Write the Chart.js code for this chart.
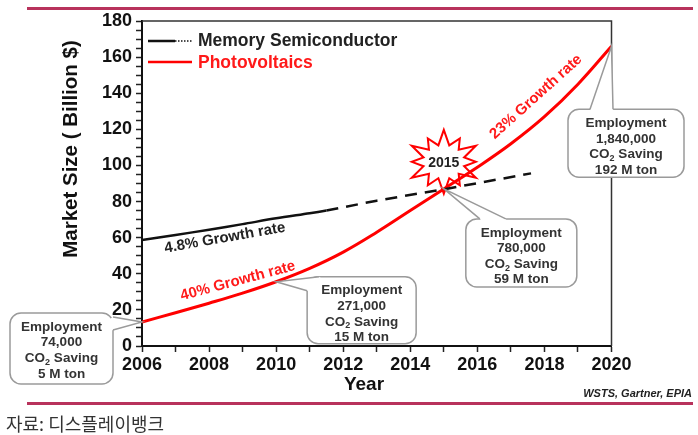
<!DOCTYPE html>
<html>
<head>
<meta charset="utf-8">
<script src="https://cdn.jsdelivr.net/npm/chart.js"></script>
<style>
  body { margin: 0; background: #fff; }
  #wrap { width: 698px; height: 435px; }
</style>
</head>
<body>
<div id="wrap"><canvas id="chart" width="698" height="435"></canvas></div>
<script>
// values
const pvYears = [2006, 2007, 2008, 2009, 2010, 2011, 2012, 2013, 2014, 2015, 2016, 2017, 2018, 2019, 2020];
const pvValues = [13.3, 18.4, 23.7, 29.3, 35.6, 43, 52, 63, 75, 87, 99, 112, 127, 145, 166];
const memYears = [2006, 2007, 2008, 2009, 2010, 2011, 2011.5];
const memValues = [58.7, 61.5, 64.4, 67.5, 70.7, 73.5, 75];
const memForecastYears = [2011.5, 2013, 2015, 2017.6];
const memForecastValues = [75, 80.5, 86.8, 95.6];

const seriesNames = ["Memory Semiconductor", "Photovoltaics"];
const growthLabels = [
  { text: "4.8% Growth rate", x: 2008.47, y: 59.8, angle: -10, color: "#222" },
  { text: "40% Growth rate", x: 2008.86, y: 36, angle: -15, color: "#ff1a1a" },
  { text: "23% Growth rate", x: 2017.75, y: 138, angle: -42, color: "#ff1a1a" }
];
// callouts: anchor on the PV curve, text inside the box
const callouts = [
  { x: 2006, y: 13.3, lines: ["Employment", "74,000", "CO2 Saving", "5 M ton"] },
  { x: 2010, y: 35.6, lines: ["Employment", "271,000", "CO2 Saving", "15 M ton"] },
  { x: 2015, y: 87, lines: ["Employment", "780,000", "CO2 Saving", "59 M ton"] },
  { x: 2020, y: 166, lines: ["Employment", "1,840,000", "CO2 Saving", "192 M ton"] }
];
const starYear = 2015, starValue = 102, starText = "2015";

// box placement relative to the anchor pixel (style only)
const calloutBoxes = [
  { dx: -132, dy: -9, w: 103, h: 71, b1: [103, 4], b2: [103, 17] },
  { dx: 31, dy: -5, w: 109, h: 67, b1: [0, 14], b2: [12, 0] },
  { dx: 22, dy: 30, w: 111, h: 68, b1: [14, 0], b2: [40, 0] },
  { dx: -43.5, dy: 63, w: 116, h: 68, b1: [22, 0], b2: [45, 0] }
];

Chart.defaults.font.family = "'Liberation Sans', Arial, sans-serif";

function roundRect(ctx, x, y, w, h, r) {
  ctx.beginPath();
  ctx.moveTo(x + r, y);
  ctx.arcTo(x + w, y, x + w, y + h, r);
  ctx.arcTo(x + w, y + h, x, y + h, r);
  ctx.arcTo(x, y + h, x, y, r);
  ctx.arcTo(x, y, x + w, y, r);
  ctx.closePath();
}

function drawCO2Line(ctx, text, cx, y) {
  // "CO2 Saving" with a subscript 2
  const big = "bold 13.5px 'Liberation Sans', Arial, sans-serif";
  const small = "bold 9px 'Liberation Sans', Arial, sans-serif";
  const rest = text.slice(3);
  ctx.font = big;
  const wCO = ctx.measureText("CO").width;
  const wRest = ctx.measureText(rest).width;
  ctx.font = small;
  const w2 = ctx.measureText("2").width;
  const total = wCO + w2 + wRest;
  let x = cx - total / 2;
  ctx.textAlign = "left";
  ctx.font = big;
  ctx.fillText("CO", x, y);
  x += wCO;
  ctx.font = small;
  ctx.fillText("2", x, y + 4);
  x += w2;
  ctx.font = big;
  ctx.fillText(rest, x, y);
}

const decorPlugin = {
  id: "decor",
  beforeDatasetsDraw(chart) {
    const { ctx, scales } = chart;
    const cx = scales.x.getPixelForValue(starYear);
    const cy = scales.y.getPixelForValue(starValue);
    const n = 12;
    ctx.save();
    ctx.beginPath();
    for (let i = 0; i < n * 2; i++) {
      const a = -Math.PI / 2 + i * Math.PI / n;
      const outer = i % 2 === 0;
      const rx = outer ? (i % 4 === 0 ? 37 : 32) : 21;
      const ry = outer ? (i % 4 === 0 ? 32 : 27) : 17;
      const px = cx + Math.cos(a) * rx;
      const py = cy + Math.sin(a) * ry;
      if (i === 0) ctx.moveTo(px, py); else ctx.lineTo(px, py);
    }
    ctx.closePath();
    ctx.fillStyle = "#fff";
    ctx.fill();
    ctx.strokeStyle = "#ff0000";
    ctx.lineWidth = 2;
    ctx.stroke();
    ctx.fillStyle = "#222";
    ctx.font = "bold 14px 'Liberation Sans', Arial, sans-serif";
    ctx.textAlign = "center";
    ctx.textBaseline = "middle";
    ctx.fillText(starText, cx, cy + 1);
    ctx.restore();
  },
  afterDatasetsDraw(chart) {
    const { ctx, scales } = chart;
    ctx.save();
    ctx.font = "bold 15px 'Liberation Sans', Arial, sans-serif";
    ctx.textAlign = "center";
    ctx.textBaseline = "middle";
    growthLabels.forEach(g => {
      ctx.save();
      ctx.translate(scales.x.getPixelForValue(g.x), scales.y.getPixelForValue(g.y));
      ctx.rotate(g.angle * Math.PI / 180);
      ctx.fillStyle = g.color;
      ctx.fillText(g.text, 0, 0);
      ctx.restore();
    });
    ctx.restore();
  },
  afterDraw(chart) {
    const { ctx, chartArea: a, scales } = chart;
    ctx.save();

    // frame top and right
    ctx.strokeStyle = "#333";
    ctx.lineWidth = 1.5;
    ctx.beginPath();
    ctx.moveTo(a.left, a.top);
    ctx.lineTo(a.right, a.top);
    ctx.lineTo(a.right, a.bottom);
    ctx.stroke();

    // legend
    ctx.lineWidth = 2.5;
    ctx.strokeStyle = "#111";
    ctx.beginPath();
    ctx.moveTo(148, 41); ctx.lineTo(175, 41);
    ctx.stroke();
    ctx.lineWidth = 1.5;
    ctx.setLineDash([1.5, 1.5]);
    ctx.beginPath();
    ctx.moveTo(175, 41); ctx.lineTo(192, 41);
    ctx.stroke();
    ctx.setLineDash([]);
    ctx.strokeStyle = "#ff0000";
    ctx.lineWidth = 2.5;
    ctx.beginPath();
    ctx.moveTo(148, 62); ctx.lineTo(192, 62);
    ctx.stroke();
    ctx.font = "bold 17.5px 'Liberation Sans', Arial, sans-serif";
    ctx.textAlign = "left";
    ctx.textBaseline = "middle";
    ctx.fillStyle = "#222";
    ctx.fillText(seriesNames[0], 198, 41);
    ctx.fillStyle = "#ff1a1a";
    ctx.fillText(seriesNames[1], 198, 63);

    // axis titles
    ctx.fillStyle = "#111";
    ctx.font = "bold 19px 'Liberation Sans', Arial, sans-serif";
    ctx.textAlign = "center";
    ctx.fillText("Year", 364, 385);
    ctx.save();
    ctx.translate(71, 149);
    ctx.rotate(-Math.PI / 2);
    ctx.font = "bold 20.5px 'Liberation Sans', Arial, sans-serif";
    ctx.fillText("Market Size ( Billion $)", 0, 0);
    ctx.restore();

    // callouts
    callouts.forEach((c, i) => {
      const box = calloutBoxes[i];
      const tx = scales.x.getPixelForValue(c.x);
      const ty = scales.y.getPixelForValue(c.y);
      const bx = tx + box.dx, by = ty + box.dy;
      const p1 = [bx + box.b1[0], by + box.b1[1]];
      const p2 = [bx + box.b2[0], by + box.b2[1]];
      roundRect(ctx, bx, by, box.w, box.h, 11);
      ctx.fillStyle = "#fff";
      ctx.fill();
      ctx.strokeStyle = "#9a9a9a";
      ctx.lineWidth = 1.5;
      ctx.stroke();
      ctx.beginPath();
      ctx.moveTo(tx, ty);
      ctx.lineTo(p1[0], p1[1]);
      ctx.lineTo(bx + box.w / 2, by + box.h / 2);
      ctx.lineTo(p2[0], p2[1]);
      ctx.closePath();
      ctx.fillStyle = "#fff";
      ctx.fill();
      ctx.beginPath();
      ctx.moveTo(p1[0], p1[1]); ctx.lineTo(tx, ty); ctx.lineTo(p2[0], p2[1]);
      ctx.stroke();

      ctx.fillStyle = "#333";
      ctx.textBaseline = "middle";
      const mid = bx + box.w / 2;
      c.lines.forEach((line, k) => {
        const ly = by + 14 + k * 15.6;
        if (line.startsWith("CO2")) {
          drawCO2Line(ctx, line, mid, ly);
        } else {
          ctx.font = "bold 13.5px 'Liberation Sans', Arial, sans-serif";
          ctx.textAlign = "center";
          ctx.fillText(line, mid, ly);
        }
      });
    });

    // rules, source notes
    ctx.fillStyle = "#b8325c";
    ctx.fillRect(27, 7, 666, 3);
    ctx.fillRect(27, 402, 666, 3);
    ctx.fillStyle = "#222";
    ctx.font = "italic bold 11px 'Liberation Sans', Arial, sans-serif";
    ctx.textAlign = "right";
    ctx.textBaseline = "middle";
    ctx.fillText("WSTS, Gartner, EPIA", 692, 394);
    ctx.font = "18px 'Noto Sans CJK KR', sans-serif";
    ctx.textAlign = "left";
    ctx.fillStyle = "#333";
    ctx.fillText("자료: 디스플레이뱅크", 6, 424);
    ctx.restore();
  }
};

function toPoints(xs, ys) {
  return xs.map((x, i) => ({ x: x, y: ys[i] }));
}

new Chart(document.getElementById("chart"), {
  type: "line",
  data: {
    datasets: [
      {
        label: seriesNames[0],
        data: toPoints(memYears, memValues),
        borderColor: "#111",
        borderWidth: 2.5,
        tension: 0.3,
        pointRadius: 0
      },
      {
        label: seriesNames[0] + " forecast",
        data: toPoints(memForecastYears, memForecastValues),
        borderColor: "#111",
        borderWidth: 2.5,
        borderDash: [12, 8],
        tension: 0,
        pointRadius: 0
      },
      {
        label: seriesNames[1],
        data: toPoints(pvYears, pvValues),
        borderColor: "#ff0000",
        borderWidth: 3,
        tension: 0.4,
        pointRadius: 0
      }
    ]
  },
  options: {
    responsive: false,
    animation: false,
    layout: { padding: { top: 21, right: 86.5, left: 0, bottom: 0 } },
    plugins: { legend: { display: false }, tooltip: { enabled: false } },
    scales: {
      x: {
        type: "linear",
        min: 2006,
        max: 2020,
        afterFit: s => { s.height = 89; },
        ticks: {
          stepSize: 1,
          autoSkip: false,
          maxRotation: 0,
          color: "#111",
          padding: 2,
          font: { size: 18, weight: "bold" },
          callback: v => (v % 2 === 0 ? String(v) : "")
        },
        grid: { drawOnChartArea: false, tickLength: 6, tickColor: "#222", tickWidth: 1.5 },
        border: { color: "#111", width: 2 }
      },
      y: {
        min: 0,
        max: 180,
        afterFit: s => { s.width = 142; },
        ticks: {
          stepSize: 5,
          autoSkip: false,
          color: "#111",
          padding: 4,
          font: { size: 18, weight: "bold" },
          callback: v => (v % 20 === 0 ? String(v) : "")
        },
        grid: { drawOnChartArea: false, tickLength: 6, tickColor: "#222", tickWidth: 1.5 },
        border: { color: "#111", width: 2 }
      }
    }
  },
  plugins: [decorPlugin]
});
</script>
</body>
</html>
